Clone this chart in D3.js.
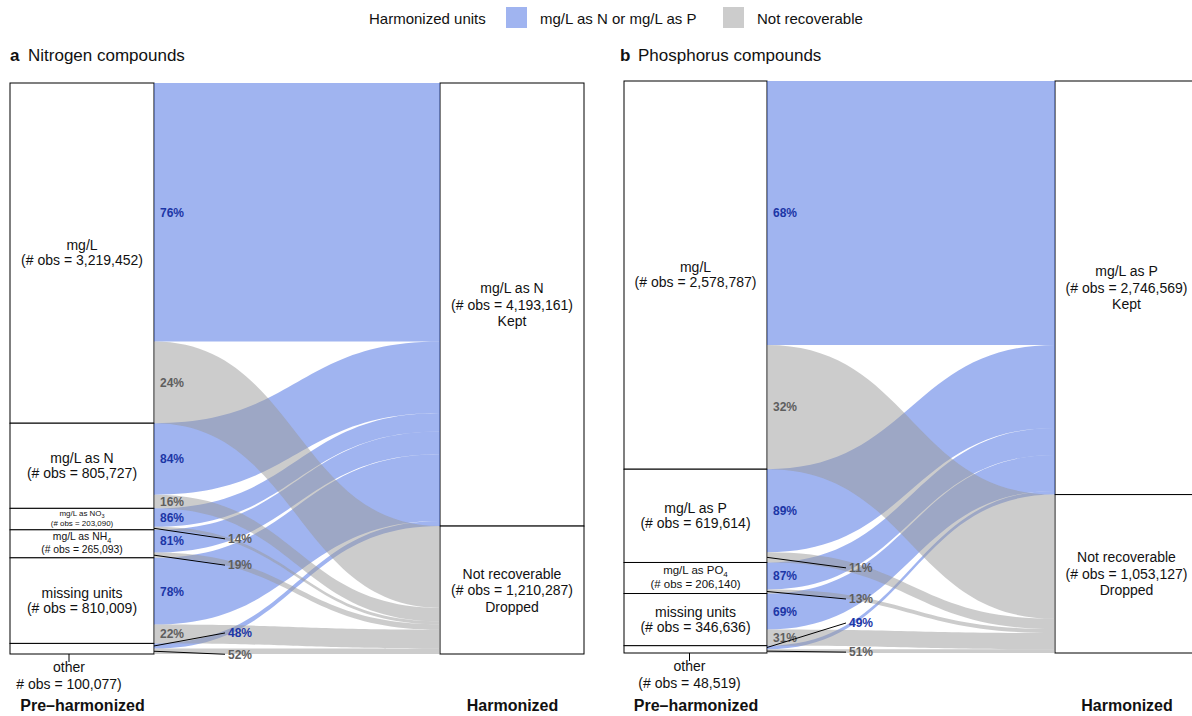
<!DOCTYPE html>
<html>
<head>
<meta charset="utf-8">
<script src="https://cdn.jsdelivr.net/npm/d3@7"></script>
<style>
  body { margin: 0; background: #fff; }
  svg { display: block; }
  text { font-family: "Liberation Sans", Arial, Helvetica, sans-serif; }
</style>
</head>
<body>
<svg id="chart" width="1192" height="716"></svg>
<script>
// ---- Data -------------------------------------------------------------
const stages = ["Pre\u2013harmonized", "Harmonized"];
const statusLabels = ["mg/L as N or mg/L as P", "Not recoverable"];

// strata stacked top to bottom on the pre-harmonized axis
const nitrogenStrata = ["mg/L", "mg/L as N", "mg/L as NO3", "mg/L as NH4", "missing units", "other"];
const nitrogenObs = [3219452, 805727, 203090, 265093, 810009, 100077];
const nitrogenKeptPct = [76, 84, 86, 81, 78, 48];
const nitrogenOutcomes = ["mg/L as N", "Not recoverable"];
const nitrogenOutcomeObs = [4193161, 1210287];
const nitrogenOutcomeNotes = ["Kept", "Dropped"];

const phosphorusStrata = ["mg/L", "mg/L as P", "mg/L as PO4", "missing units", "other"];
const phosphorusObs = [2578787, 619614, 206140, 346636, 48519];
const phosphorusKeptPct = [68, 89, 87, 69, 49];
const phosphorusOutcomes = ["mg/L as P", "Not recoverable"];
const phosphorusOutcomeObs = [2746569, 1053127];
const phosphorusOutcomeNotes = ["Kept", "Dropped"];

// ---- Styling ------------------------------------------------------------
const FLOW_FILL = ["#4169e1", "#999999"];
const FLOW_OPACITY = 0.5;
const PCT_COLOR = ["#1c36a6", "#5e5e5e"];
const fmt = d3.format(",");

const svg = d3.select("#chart");

// Legend
const legend = svg.append("g").attr("class", "legend");
legend.append("text").attr("x", 369).attr("y", 24).attr("font-size", 15).attr("fill", "#111")
  .text("Harmonized units");
const legendX = [506, 723];
statusLabels.forEach((lab, i) => {
  legend.append("rect").attr("x", legendX[i]).attr("y", 7).attr("width", 21).attr("height", 21)
    .attr("fill", FLOW_FILL[i]).attr("fill-opacity", FLOW_OPACITY);
  legend.append("text").attr("x", legendX[i] + 34).attr("y", 24).attr("font-size", 15).attr("fill", "#111")
    .text(lab);
});

// Writes a label such as "mg/L as NO3" with the trailing digit as subscript
function chemLabel(sel, name, size) {
  const m = name.match(/^(.*[A-Z])(\d)$/);
  if (m) {
    sel.append("tspan").text(m[1]);
    sel.append("tspan").attr("font-size", size * 0.7).attr("dy", size * 0.3).text(m[2]);
  } else {
    sel.text(name);
  }
}

function drawPanel(cfg) {
  const g = svg.append("g");
  const x = d3.scalePoint().domain(stages).range(cfg.centers);
  const w = cfg.boxWidth;
  const total = d3.sum(cfg.obs);
  const y = d3.scaleLinear().domain([0, total]).range([cfg.top, cfg.bottom]);

  // strata on the left axis
  let cum = 0;
  const strata = cfg.strata.map((name, i) => {
    const s = { name, obs: cfg.obs[i], y0: cum };
    cum += cfg.obs[i];
    s.y1 = cum;
    return s;
  });

  // flows: each stratum splits into kept (0) and not recoverable (1)
  const flows = [];
  strata.forEach((s, i) => {
    const kept = s.obs * cfg.keptPct[i] / 100;
    flows.push({ i, status: 0, value: kept, pct: cfg.keptPct[i], l0: s.y0, l1: s.y0 + kept });
    flows.push({ i, status: 1, value: s.obs - kept, pct: 100 - cfg.keptPct[i], l0: s.y0 + kept, l1: s.y1 });
  });
  let rc = 0;
  const outcomes = [0, 1].map(st => {
    const o = { y0: rc };
    flows.filter(f => f.status === st).forEach(f => { f.r0 = rc; rc += f.value; f.r1 = rc; });
    o.y1 = rc;
    return o;
  });

  const xl = x(stages[0]) - w / 2, xr = x(stages[1]) - w / 2;
  const x0 = xl + w, x1 = xr, xm = (x0 + x1) / 2;

  // stratum boxes
  g.selectAll("rect.left").data(strata).join("rect").attr("class", "left")
    .attr("x", xl).attr("y", d => y(d.y0)).attr("width", w).attr("height", d => y(d.y1) - y(d.y0))
    .attr("fill", "#fff").attr("stroke", "#000").attr("stroke-width", 1);
  g.selectAll("rect.right").data(outcomes).join("rect").attr("class", "right")
    .attr("x", xr).attr("y", d => y(d.y0)).attr("width", w).attr("height", d => y(d.y1) - y(d.y0))
    .attr("fill", "#fff").attr("stroke", "#000").attr("stroke-width", 1);

  // flow ribbons
  function ribbon(f) {
    const p = d3.path();
    const a0 = y(f.l0), a1 = y(f.l1), b0 = y(f.r0), b1 = y(f.r1);
    p.moveTo(x0, a0);
    p.bezierCurveTo(xm, a0, xm, b0, x1, b0);
    p.lineTo(x1, b1);
    p.bezierCurveTo(xm, b1, xm, a1, x0, a1);
    p.closePath();
    return p.toString();
  }
  const ordered = flows.filter(f => f.status === 0).concat(flows.filter(f => f.status === 1));
  g.selectAll("path.flow").data(ordered).join("path").attr("class", "flow")
    .attr("d", ribbon).attr("fill", d => FLOW_FILL[d.status]).attr("fill-opacity", FLOW_OPACITY);

  // percentage labels
  flows.forEach(f => {
    const cy = (y(f.l0) + y(f.l1)) / 2;
    const nudge = cfg.pctNudges.find(n => n.i === f.i && n.status === f.status);
    let tx = x0 + 6, ty = cy;
    if (nudge) {
      tx = x0 + nudge.dx;
      ty = cy + nudge.dy;
      g.append("line").attr("x1", x0).attr("y1", cy).attr("x2", tx - 3).attr("y2", ty)
        .attr("stroke", "#000").attr("stroke-width", 1);
    }
    g.append("text").attr("x", tx).attr("y", ty).attr("dy", "0.36em")
      .attr("font-size", 12).attr("font-weight", "bold").attr("fill", PCT_COLOR[f.status])
      .text(f.pct + "%");
  });

  // left stratum labels
  strata.forEach((s, i) => {
    const top = y(s.y0), bot = y(s.y1), h = bot - top;
    const cx = x(stages[0]);
    if (h < 15) {
      const tx = cx + cfg.otherNudge;
      g.append("line").attr("x1", tx).attr("x2", tx).attr("y1", bot).attr("y2", bot + 8)
        .attr("stroke", "#000").attr("stroke-width", 1);
      const t1 = g.append("text").attr("x", tx).attr("y", bot + 18).attr("text-anchor", "middle")
        .attr("font-size", 14).attr("fill", "#111");
      chemLabel(t1, s.name, 14);
      g.append("text").attr("x", tx).attr("y", bot + 35).attr("text-anchor", "middle")
        .attr("font-size", 14).attr("fill", "#111").text(cfg.otherObsText(fmt(s.obs)));
      return;
    }
    const fs = Math.min(14, h * 0.37);
    const lh = h < 40 ? fs * 1.2 : fs * 1.08;
    const cy = (top + bot) / 2 + (h < 40 ? -1 : 0);
    const t1 = g.append("text").attr("x", cx).attr("y", cy - lh / 2 + fs * 0.34)
      .attr("text-anchor", "middle").attr("font-size", fs).attr("fill", "#111");
    chemLabel(t1, s.name, fs);
    g.append("text").attr("x", cx).attr("y", cy + lh / 2 + fs * 0.34)
      .attr("text-anchor", "middle").attr("font-size", fs).attr("fill", "#111")
      .text("(# obs = " + fmt(s.obs) + ")");
  });

  // right outcome labels
  outcomes.forEach((o, k) => {
    const cy = (y(o.y0) + y(o.y1)) / 2, cx = x(stages[1]);
    const lines = [cfg.outcomes[k], "(# obs = " + fmt(cfg.outcomeObs[k]) + ")", cfg.outcomeNotes[k]];
    lines.forEach((ln, j) => {
      g.append("text").attr("x", cx).attr("y", cy + (j - 1) * 16.5 + 5)
        .attr("text-anchor", "middle").attr("font-size", 14).attr("fill", "#111").text(ln);
    });
  });

  // stage axis
  const axis = g.append("g").attr("transform", `translate(0,${cfg.axisY})`)
    .call(d3.axisBottom(x).tickSize(0).tickPadding(0));
  axis.select(".domain").remove();
  axis.selectAll("text").attr("font-size", 16).attr("font-weight", "bold").attr("fill", "#111")
    .attr("font-family", '"Liberation Sans", Arial, sans-serif').attr("dy", 0);

  // panel title
  g.append("text").attr("x", cfg.titleX).attr("y", 61).attr("font-size", 17).attr("font-weight", "bold")
    .attr("fill", "#111").text(cfg.tag);
  g.append("text").attr("x", cfg.titleX + 18).attr("y", 61).attr("font-size", 17).attr("fill", "#111")
    .text(cfg.title);
}

drawPanel({
  tag: "a", title: "Nitrogen compounds", titleX: 10,
  strata: nitrogenStrata, obs: nitrogenObs, keptPct: nitrogenKeptPct,
  outcomes: nitrogenOutcomes, outcomeObs: nitrogenOutcomeObs, outcomeNotes: nitrogenOutcomeNotes,
  centers: [82, 512], boxWidth: 144, top: 83, bottom: 654, axisY: 711,
  otherNudge: -13, otherObsText: v => "# obs = " + v + ")",
  pctNudges: [
    { i: 2, status: 1, dx: 74, dy: 10.5 },
    { i: 3, status: 1, dx: 74, dy: 10 },
    { i: 5, status: 0, dx: 74, dy: -13 },
    { i: 5, status: 1, dx: 74, dy: 3 }
  ]
});

drawPanel({
  tag: "b", title: "Phosphorus compounds", titleX: 620,
  strata: phosphorusStrata, obs: phosphorusObs, keptPct: phosphorusKeptPct,
  outcomes: phosphorusOutcomes, outcomeObs: phosphorusOutcomeObs, outcomeNotes: phosphorusOutcomeNotes,
  centers: [695.5, 1126.5], boxWidth: 143, top: 81, bottom: 653, axisY: 711,
  otherNudge: -6, otherObsText: v => "(# obs = " + v + ")",
  pctNudges: [
    { i: 1, status: 1, dx: 82, dy: 10.5 },
    { i: 2, status: 1, dx: 82, dy: 7.5 },
    { i: 4, status: 0, dx: 82, dy: -24.5 },
    { i: 4, status: 1, dx: 82, dy: 1 }
  ]
});
</script>
</body>
</html>
